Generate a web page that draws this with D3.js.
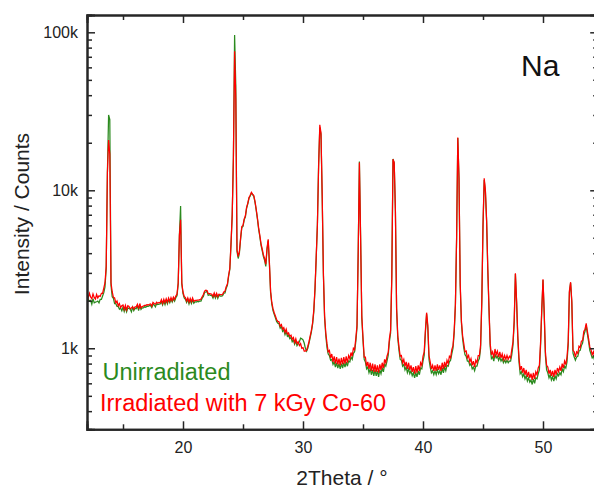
<!DOCTYPE html>
<html>
<head>
<meta charset="utf-8">
<script src="https://cdn.jsdelivr.net/npm/d3@7"></script>
<style>
html,body{margin:0;padding:0;background:#fff;}
svg{display:block;}
text{font-family:"Liberation Sans",Arial,Helvetica,sans-serif;}
</style>
</head>
<body>
<svg id="chart" width="594" height="488"></svg>
<script>
// ---- data ----
// 2Theta sampling: start and step (degrees)
const thetaStart = 12.0;
const thetaStep = 0.1;

// Irradiated with 7 kGy Co-60 (red), intensity in counts, 12.0 .. 54.5 deg
const irradiated = [
  2200,2080,2230,2110,2060,2210,2100,2050,2190,2080,
  2150,2130,2230,2230,2400,2600,3300,12900,20800,17000,
  2600,2280,2100,2080,1940,1990,1860,1920,1810,1860,
  1880,1760,1870,1750,1860,1840,1780,1800,1830,1770,
  1830,1830,1900,1780,1920,1800,1840,1850,1870,1870,
  1890,1880,1900,1910,1850,1950,1920,1900,1960,1930,
  1950,1940,2030,1920,2040,1940,2060,1960,2080,1980,
  2090,2000,2110,2040,2140,2200,2600,5200,6500,2600,
  2270,2130,2090,1990,2080,1960,2070,1970,2080,1980,
  2010,2010,2020,2020,2030,2050,2120,2190,2300,2330,
  2320,2220,2220,2210,2200,2130,2240,2130,2230,2120,
  2200,2190,2180,2200,2270,2300,2450,2550,2900,3200,
  4600,7000,16000,76000,38000,4200,3800,4100,5000,5900,
  6000,6600,6900,7800,8300,9000,9300,9700,9450,9250,
  8500,7600,6700,5800,5200,4600,4250,3900,3700,3400,
  4300,4900,3500,2300,1950,1780,1680,1600,1520,1480,
  1470,1380,1410,1320,1350,1260,1320,1230,1250,1190,
  1210,1140,1170,1090,1150,1070,1100,1040,1070,1000,
  1010,960,960,970,1030,1100,1200,1300,1450,1750,
  2400,3800,6000,14000,26000,23000,9300,3000,1600,1250,
  1070,950,970,870,920,820,890,800,880,790,
  860,780,870,790,880,800,890,810,900,860,
  940,890,1000,980,1150,1400,4000,15000,5000,1600,
  1170,880,880,770,820,740,810,720,800,710,
  790,710,780,700,790,730,810,750,850,810,
  890,940,1150,1300,2800,15700,15000,7500,1800,1200,
  1020,890,900,810,850,770,820,740,810,730,
  780,710,760,690,770,700,780,720,810,780,
  890,950,1300,1680,1400,900,820,740,780,720,
  780,720,790,730,780,720,810,740,820,760,
  840,800,890,870,980,1040,1300,1900,5000,21600,
  12000,2600,1500,1200,1070,950,960,870,900,820,
  860,780,830,760,840,810,900,900,1050,2000,
  6000,11900,10000,6500,3200,1800,1070,910,950,870,
  990,910,960,880,950,870,920,850,900,850,
  900,850,890,870,980,1100,1500,2980,2000,1200,
  870,730,770,700,750,680,730,660,710,650,
  690,630,700,640,710,680,750,780,1100,1800,
  2730,1700,950,780,760,690,730,670,720,660,
  730,680,750,710,760,720,800,750,830,790,
  880,1100,2300,2620,2000,970,950,880,950,930,
  1030,1010,1110,1120,1280,1320,1440,1280,1150,1020,
  980,910,950,880,920,860
];

// Unirradiated (green), intensity in counts, 12.0 .. 54.5 deg
const unirradiated = [
  1960,2040,1990,2010,1900,2060,1940,1960,1970,1990,
  1940,2040,2040,2140,2250,2450,3200,12900,30000,28000,
  2500,2120,2070,1920,1920,1840,1840,1770,1800,1730,
  1820,1710,1810,1700,1800,1790,1770,1700,1820,1730,
  1790,1780,1860,1730,1870,1760,1800,1800,1830,1820,
  1850,1840,1860,1860,1810,1900,1880,1830,1910,1890,
  1900,1910,1970,1880,1990,1890,2010,1910,2030,1940,
  2040,1960,2060,1990,2090,2150,2550,5200,7950,2550,
  2220,2080,2040,1950,2040,1910,2020,1920,2030,1930,
  1970,1960,1980,1970,1990,1990,2080,2130,2260,2270,
  2290,2160,2180,2160,2160,2080,2190,2080,2180,2070,
  2170,2140,2140,2150,2230,2240,2400,2500,2850,3150,
  4500,6900,16000,96000,46000,4100,3700,4000,4900,5800,
  5900,6500,6800,7700,8200,8900,9200,9600,9400,9150,
  8400,7500,6600,5700,5100,4500,4150,3800,3600,3300,
  4200,4800,3400,2250,1900,1730,1640,1560,1480,1440,
  1430,1340,1370,1280,1310,1220,1280,1190,1210,1150,
  1170,1100,1130,1060,1110,1040,1070,1100,1160,1150,
  1130,1080,1000,960,1000,1080,1170,1270,1420,1700,
  2350,3700,6100,14500,25000,22500,9000,2900,1550,1200,
  1010,920,900,840,850,790,820,760,810,750,
  800,740,800,750,810,760,820,770,830,820,
  880,850,930,950,1100,1350,4100,15200,5200,1550,
  1120,850,820,740,760,700,740,680,730,670,
  730,670,720,660,730,690,750,710,790,770,
  830,900,1100,1250,2900,15800,14800,7400,1750,1150,
  970,850,840,770,790,730,760,700,740,690,
  720,670,700,650,700,660,720,680,750,740,
  830,900,1250,1650,1350,850,760,700,720,680,
  720,680,730,690,720,680,750,700,760,720,
  780,770,820,840,920,1000,1250,1850,4900,21400,
  11800,2500,1450,1150,1000,910,890,830,830,780,
  800,740,760,720,770,770,830,860,1000,1950,
  5900,11600,9800,6400,3100,1750,1020,860,880,830,
  920,870,890,840,880,830,860,810,840,810,
  840,810,830,830,910,1050,1450,2950,1950,1150,
  820,690,710,660,690,640,670,620,650,610,
  630,590,640,600,650,640,690,730,1050,1750,
  2700,1650,900,730,700,650,680,630,660,620,
  670,640,690,670,700,680,740,710,770,750,
  820,1050,2250,2600,1950,930,880,840,880,890,
  960,970,1040,1080,1210,1280,1400,1230,1100,970,
  920,870,890,840,860,820
];

const xTicksMajor = [20, 30, 40, 50];
const xTicksMinor = [15, 25, 35, 45];
const yTicksMajor = [1000, 10000, 100000];
const yTickLabels = ["1k", "10k", "100k"];
const xDomain = [12, 54.6];
const yDomain = [307, 128700];

const seriesNames = ["Unirradiated", "Irradiated with 7 kGy Co-60"];
const seriesColors = ["#2b8a1e", "#ff0000"];
const sampleLabel = "Na";
const xTitle = "2Theta / \u00B0";
const yTitle = "Intensity / Counts";

// ---- layout ----
const L = 87, R = 598.2, T = 15, B = 429.3;
const svg = d3.select("#chart");

const x = d3.scaleLinear().domain(xDomain).range([L, R]);
const y = d3.scaleLog().domain(yDomain).range([B, T]);

const toPoints = arr => arr.map((v, i) => [thetaStart + i * thetaStep, v]);
const line = d3.line().x(d => x(d[0])).y(d => y(d[1]));

svg.append("defs").append("clipPath").attr("id", "clip")
  .append("rect").attr("x", L).attr("y", T).attr("width", R - L).attr("height", B - T);

const plot = svg.append("g").attr("clip-path", "url(#clip)");
plot.append("path").datum(toPoints(unirradiated))
  .attr("fill", "none").attr("stroke", seriesColors[0]).attr("stroke-width", 1.25)
  .attr("stroke-linejoin", "miter").attr("d", line);
plot.append("path").datum(toPoints(irradiated))
  .attr("fill", "none").attr("stroke", seriesColors[1]).attr("stroke-width", 1.25)
  .attr("stroke-linejoin", "miter").attr("d", line);

// minor y ticks
const yMinor = [];
[100, 1000, 10000, 100000].forEach(dec => {
  for (let k = 2; k <= 9; k++) {
    const v = dec * k;
    if (v > yDomain[0] && v < yDomain[1]) yMinor.push(v);
  }
});

const axisColor = "#262626";
const fmtY = d => yTickLabels[yTicksMajor.indexOf(d)];

// bottom axis
const gB = svg.append("g").attr("transform", `translate(0,${B})`)
  .call(d3.axisBottom(x).tickValues(xTicksMajor).tickSize(-8).tickPadding(12).tickFormat(d3.format("d")));
const gBm = svg.append("g").attr("transform", `translate(0,${B})`)
  .call(d3.axisBottom(x).tickValues(xTicksMinor).tickSize(-5).tickFormat(""));
// top axis
const gT = svg.append("g").attr("transform", `translate(0,${T})`)
  .call(d3.axisTop(x).tickValues(xTicksMajor).tickSize(-8).tickFormat(""));
const gTm = svg.append("g").attr("transform", `translate(0,${T})`)
  .call(d3.axisTop(x).tickValues(xTicksMinor).tickSize(-5).tickFormat(""));
// left axis
const gL = svg.append("g").attr("transform", `translate(${L},0)`)
  .call(d3.axisLeft(y).tickValues(yTicksMajor).tickSize(-8).tickPadding(9).tickFormat(fmtY));
const gLm = svg.append("g").attr("transform", `translate(${L},0)`)
  .call(d3.axisLeft(y).tickValues(yMinor).tickSize(-5).tickFormat(""));
// right axis
const gR = svg.append("g").attr("transform", `translate(${R},0)`)
  .call(d3.axisRight(y).tickValues(yTicksMajor).tickSize(-8).tickFormat(""));
const gRm = svg.append("g").attr("transform", `translate(${R},0)`)
  .call(d3.axisRight(y).tickValues(yMinor).tickSize(-5).tickFormat(""));

[gB, gBm, gT, gTm, gL, gLm, gR, gRm].forEach(g => {
  g.select(".domain").attr("stroke", axisColor).attr("stroke-width", 2);
  g.selectAll(".tick line").attr("stroke", axisColor).attr("stroke-width", 1.5);
  g.selectAll(".tick text").attr("fill", "#222").style("font-size", "16px")
    .style("font-family", '"Liberation Sans",Arial,sans-serif');
});
gB.selectAll(".tick text").attr("dy", "0.71em");

// axis titles
svg.append("text").attr("x", 342).attr("y", 485).attr("text-anchor", "middle")
  .style("font-size", "21px").attr("fill", "#222").text(xTitle);
svg.append("text").attr("transform", "translate(29,214) rotate(-90)").attr("text-anchor", "middle")
  .style("font-size", "21px").attr("fill", "#222").text(yTitle);

// sample label
svg.append("text").attr("x", 521).attr("y", 76).style("font-size", "30px").attr("fill", "#111").text(sampleLabel);

// legend
svg.append("text").attr("x", 102.5).attr("y", 380).style("font-size", "23.5px")
  .attr("fill", seriesColors[0]).text(seriesNames[0]);
svg.append("text").attr("x", 100).attr("y", 411).style("font-size", "23.5px")
  .attr("fill", seriesColors[1]).text(seriesNames[1]);
</script>
</body>
</html>
